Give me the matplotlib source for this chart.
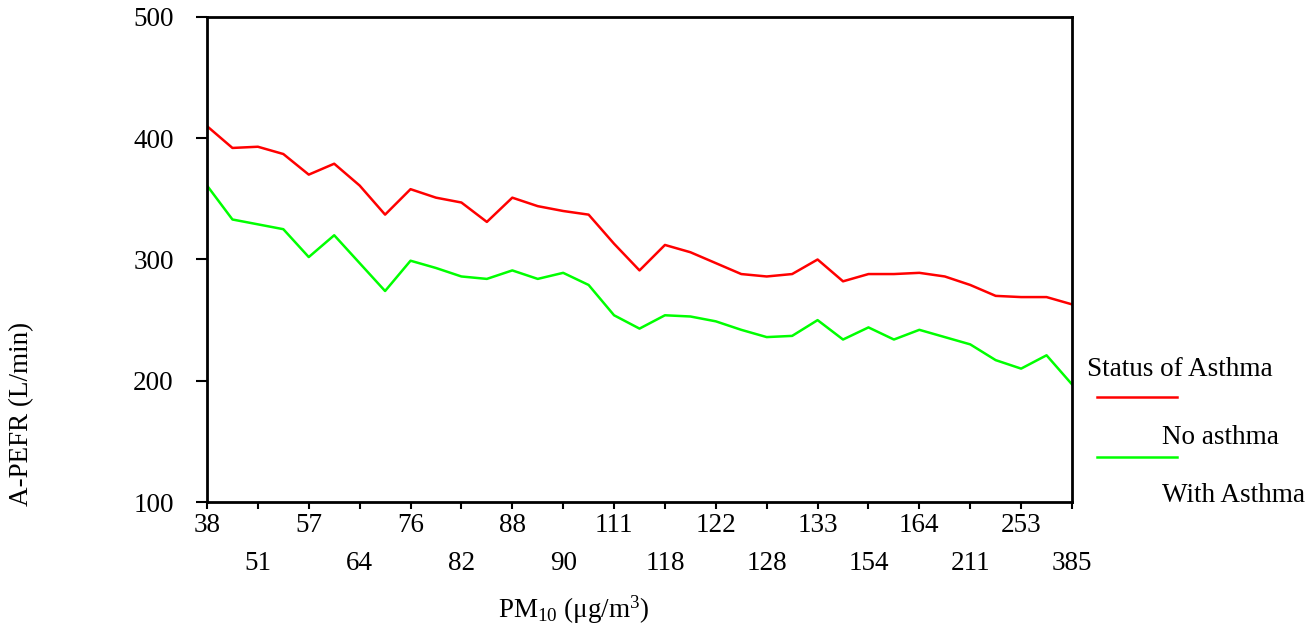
import matplotlib
matplotlib.use("Agg")
import matplotlib.pyplot as plt
from matplotlib.lines import Line2D

plt.rcParams['font.family'] = ['Liberation Serif', 'DejaVu Serif']
plt.rcParams['mathtext.fontset'] = 'custom'
plt.rcParams['mathtext.rm'] = 'Liberation Serif'
plt.rcParams['mathtext.it'] = 'Liberation Serif:italic'
plt.rcParams['mathtext.default'] = 'regular'

# Data
pm10_labels = ["38", "51", "57", "64", "76", "82", "88", "90", "111", "118",
               "122", "128", "133", "154", "164", "211", "253", "385"]
no_asthma = [410, 392, 393, 387, 370, 379, 361, 337, 358, 351, 347, 331, 351,
             344, 340, 337, 313, 291, 312, 306, 297, 288, 286, 288, 300, 282,
             288, 288, 289, 286, 279, 270, 269, 269, 263]
with_asthma = [361, 333, 329, 325, 302, 320, 297, 274, 299, 293, 286, 284, 291,
               284, 289, 279, 254, 243, 254, 253, 249, 242, 236, 237, 250, 234,
               244, 234, 242, 236, 230, 217, 210, 221, 197]
series_names = ["No asthma", "With Asthma"]
series_colors = ["#ff0000", "#00ff00"]

FS = 19.5

fig = plt.figure(figsize=(13.1, 6.27), dpi=100)
ax = fig.add_axes([207/1310, 1-502/627, (1072-207)/1310, (502-17)/627])

x = list(range(len(no_asthma)))
ax.plot(x, no_asthma, color=series_colors[0], lw=1.8)
ax.plot(x, with_asthma, color=series_colors[1], lw=1.8)

ax.set_xlim(0, len(no_asthma) - 1)
ax.set_ylim(100, 500)
ax.set_yticks([100, 200, 300, 400, 500])
ticks = list(range(0, len(no_asthma), 2))
ax.set_xticks(ticks)
ax.set_xticklabels([lbl if i % 2 == 0 else "\n" + lbl for i, lbl in enumerate(pm10_labels)])
for t in ax.get_xticklabels():
    t.set_linespacing(1.7)

for s in ax.spines.values():
    s.set_linewidth(2)
    s.set_color('black')
ax.tick_params(axis='y', direction='out', length=8, width=1.5, labelsize=FS, pad=16)
ax.tick_params(axis='x', direction='out', length=5, width=1.5, labelsize=FS, pad=3)

fig.text(22/1310, 1-414/627, "A-PEFR (L/min)", rotation=90, ha='center', va='center', fontsize=FS)
fig.text(574/1310, 1-610/627, "PM$_{10}$ (μg/m$^{3}$)", ha='center', va='center', fontsize=FS)

# Legend
fig.text(1087/1310, 1-370/627, "Status of Asthma", ha='left', va='center', fontsize=FS)
for yy, c in [(397, series_colors[0]), (457, series_colors[1])]:
    fig.add_artist(Line2D([1097/1310, 1177/1310], [1-yy/627, 1-yy/627], color=c, lw=1.8,
                          transform=fig.transFigure))
fig.text(1162/1310, 1-437/627, series_names[0], ha='left', va='center', fontsize=FS)
fig.text(1162/1310, 1-495/627, series_names[1], ha='left', va='center', fontsize=FS)

fig.savefig("out.png", dpi=100)
